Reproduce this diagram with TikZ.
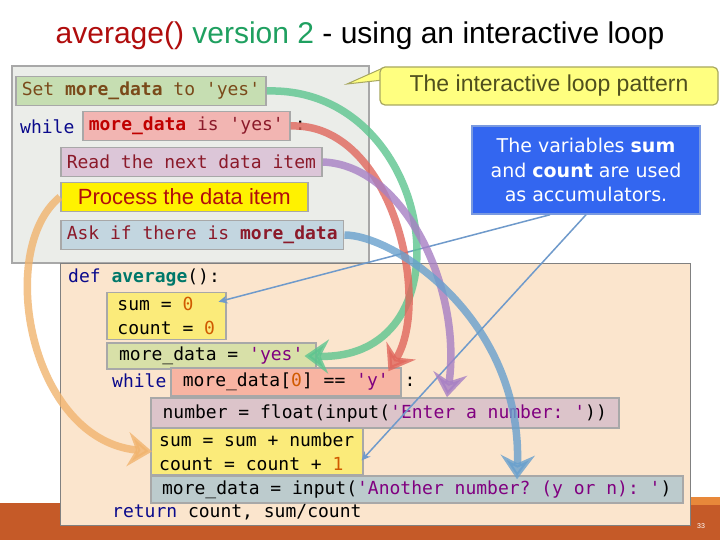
\documentclass[tikz,border=0pt]{standalone}
\usepackage{fontspec}
\setmainfont{Liberation Sans}
\setsansfont{DejaVu Sans}
\setmonofont{DejaVu Sans Mono}
\usetikzlibrary{arrows.meta,positioning}
\definecolor{titlered}{HTML}{B00D0D}
\definecolor{titlegreen}{HTML}{1FA060}
\definecolor{panelgray}{HTML}{EBEDE9}
\definecolor{panelpeach}{HTML}{FBE5CD}
\definecolor{boxline}{HTML}{A8A8A8}
\definecolor{setgreen}{HTML}{C6DEB2}
\definecolor{whilered}{HTML}{F2B5B2}
\definecolor{readlilac}{HTML}{DCC6D8}
\definecolor{askblue}{HTML}{C3D6E0}
\definecolor{accyellow}{HTML}{FBEB7A}
\definecolor{mdgreen}{HTML}{D8E0A8}
\definecolor{condsalmon}{HTML}{F8B4A2}
\definecolor{numpink}{HTML}{DCC4CA}
\definecolor{askgray}{HTML}{BCCBCD}
\definecolor{brownish}{HTML}{7A4A1A}
\definecolor{darkred}{HTML}{8B1A2A}
\definecolor{brightred}{HTML}{C00000}
\definecolor{kwblue}{HTML}{0A0A8C}
\definecolor{fnteal}{HTML}{00786A}
\definecolor{strpurple}{HTML}{800080}
\definecolor{numorange}{HTML}{D05A00}
\definecolor{calloutfill}{HTML}{FFFF80}
\definecolor{calloutline}{HTML}{A8A860}
\definecolor{callouttext}{HTML}{4F4F1E}
\definecolor{accblue}{HTML}{3366F0}
\definecolor{accbluel}{HTML}{7A9AE0}
\definecolor{tipblue}{HTML}{6F9ACB}
\definecolor{arcgreen}{HTML}{5DC58F}
\definecolor{arcred}{HTML}{E0665C}
\definecolor{arcpurple}{HTML}{A77FC4}
\definecolor{arcblue}{HTML}{68A0CD}
\definecolor{arcorange}{HTML}{F1B46E}
\definecolor{barorange}{HTML}{C55A28}
\definecolor{barlight}{HTML}{E8883A}
\newcommand{\codefont}{\fontsize{18}{24}\selectfont\ttfamily}
\newcommand{\pykw}[1]{\textcolor{kwblue}{#1}}
\newcommand{\pystr}[1]{\textcolor{strpurple}{#1}}
\newcommand{\pynum}[1]{\textcolor{numorange}{#1}}
\tikzset{
  codebox/.style={
    draw=boxline, line width=1.5pt, inner xsep=6pt, inner ysep=3pt,
    minimum height=29pt, anchor=west, font=\codefont, align=left
  },
  codetext/.style={inner sep=0pt, anchor=west, font=\codefont},
  bigarc/.style={line width=7.5pt, opacity=0.8,
    -{Stealth[length=24pt,width=34pt,inset=8pt]}},
  thinarrow/.style={draw=tipblue, line width=1.5pt,
    -{Stealth[length=9pt,width=8pt]}},
}

\begin{document}
\begin{tikzpicture}[x=1pt,y=-1pt]
  \useasboundingbox (0,0) rectangle (720,540);
  \fill[white] (0,0) rectangle (720,540);
  % footer band
  \fill[barorange] (0,503) rectangle (720,540);
  \fill[barlight] (690,497) rectangle (720,505);
  \node[text=white, font=\fontsize{7}{8}\selectfont] (pagenum) at (701,526) {33};

  \node[font=\fontsize{30}{34}\selectfont] (title) at (360,36)
    {\textcolor{titlered}{average()} \textcolor{titlegreen}{version 2} - using an interactive loop};

  % the pattern, in words
  \draw[boxline, line width=1.5pt, fill=panelgray] (12,66) rectangle (369,263);
  \node[codebox, fill=setgreen, text=brownish] (setbox) at (15,91)
    {Set \textbf{more\_data} to 'yes'};
  \node[codetext, text=kwblue] (while1) at (20,127) {while};
  \node[codebox, fill=whilered, text=darkred] (whilebox) at (82,126)
    {\textcolor{brightred}{\textbf{more\_data}} is 'yes'};
  \node[codetext, right=4pt of whilebox] (colon1) {:};
  \node[codebox, fill=readlilac, text=darkred] (readbox) at (60,162)
    {Read the next data item};
  \node[codebox, fill=yellow, text=titlered, font=\fontsize{22}{26}\selectfont,
    minimum width=247pt] (procbox) at (60,197) {Process the data item};
  \node[codebox, fill=askblue, text=darkred] (askbox) at (60,235)
    {Ask if there is \textbf{more\_data}};

  % the python code
  \draw[gray, line width=1pt, fill=panelpeach] (60,263) rectangle (690,525);
  \node[codetext] (defline) at (68,278)
    {\pykw{def} \textcolor{fnteal}{\textbf{average}}():};
  \node[codebox, fill=accyellow, minimum width=119pt, minimum height=47pt] (initbox) at (106,316)
    {sum = \pynum{0}\\count = \pynum{0}};
  \node[codebox, fill=mdgreen, minimum width=209pt, minimum height=26pt] (mdinit) at (106,356)
    {more\_data = \pystr{'yes'}};
  \node[codetext, text=kwblue] (while2) at (112,381) {while};
  \node[codebox, fill=condsalmon, minimum width=230pt, minimum height=28pt] (condbox) at (170,382)
    {more\_data[\pynum{0}] == \pystr{'y'}};
  \node[codetext, right=3pt of condbox] (colon2) {:};
  \node[codebox, fill=numpink, minimum width=468pt, minimum height=30pt] (numbox) at (150,413)
    {number = float(input(\pystr{'Enter a number: '}))};
  \node[codebox, fill=accyellow, minimum width=212pt, minimum height=47pt] (accbox) at (150,451.5)
    {sum = sum + number\\count = count + \pynum{1}};
  \node[codebox, fill=askgray, minimum width=532pt, minimum height=27pt] (askcode) at (150,489.5)
    {more\_data = input(\pystr{'Another number? (y or n): '})};
  \node[codetext] (retline) at (112,512) {\pykw{return} count, sum/count};

  % callouts
  \fill[calloutfill, draw=calloutline, line width=1pt]
    (383,68) -- (347,84) -- (383,80) -- cycle;
  \node[fill=calloutfill, draw=calloutline, line width=1.2pt, rounded corners=5pt,
    minimum width=338pt, minimum height=38pt, text=callouttext,
    font=\fontsize{23}{26}\selectfont] (pattern) at (549,86) {The interactive loop pattern};
  \node[fill=accblue, draw=accbluel, line width=1.5pt, text=white, align=center,
    minimum width=228pt, minimum height=88pt, font=\sffamily\fontsize{19}{24.5}\selectfont]
    (accum) at (586,170)
    {The variables \textbf{sum}\\and \textbf{count} are used\\as accumulators.};
  \draw[thinarrow] ([xshift=-36pt]accum.south) -- ([xshift=-8pt,yshift=-10pt]initbox.north east);
  \draw[thinarrow] (accum.south) -- ([xshift=-2pt,yshift=-9pt]accbox.east);

  % word to code
  \draw[bigarc, arcgreen] (setbox.east) .. controls (435,86) and (475,360) .. ([xshift=-12pt]mdinit.east);
  \draw[bigarc, arcred] (whilebox.east) .. controls (392,122) and (432,300) .. ([xshift=-13pt,yshift=-4pt]condbox.north east);
  \draw[bigarc, arcpurple] (readbox.east) .. controls (405,165) and (462,290) .. ([xshift=297pt]numbox.north west);
  \draw[bigarc, arcblue] (askbox.east) .. controls (395,235) and (522,320) .. ([xshift=367pt,yshift=-4pt]askcode.north west);
  \draw[bigarc, arcorange] (procbox.west) .. controls (-5,250) and (30,440) .. ([xshift=2pt]accbox.west);
\end{tikzpicture}
\end{document}
